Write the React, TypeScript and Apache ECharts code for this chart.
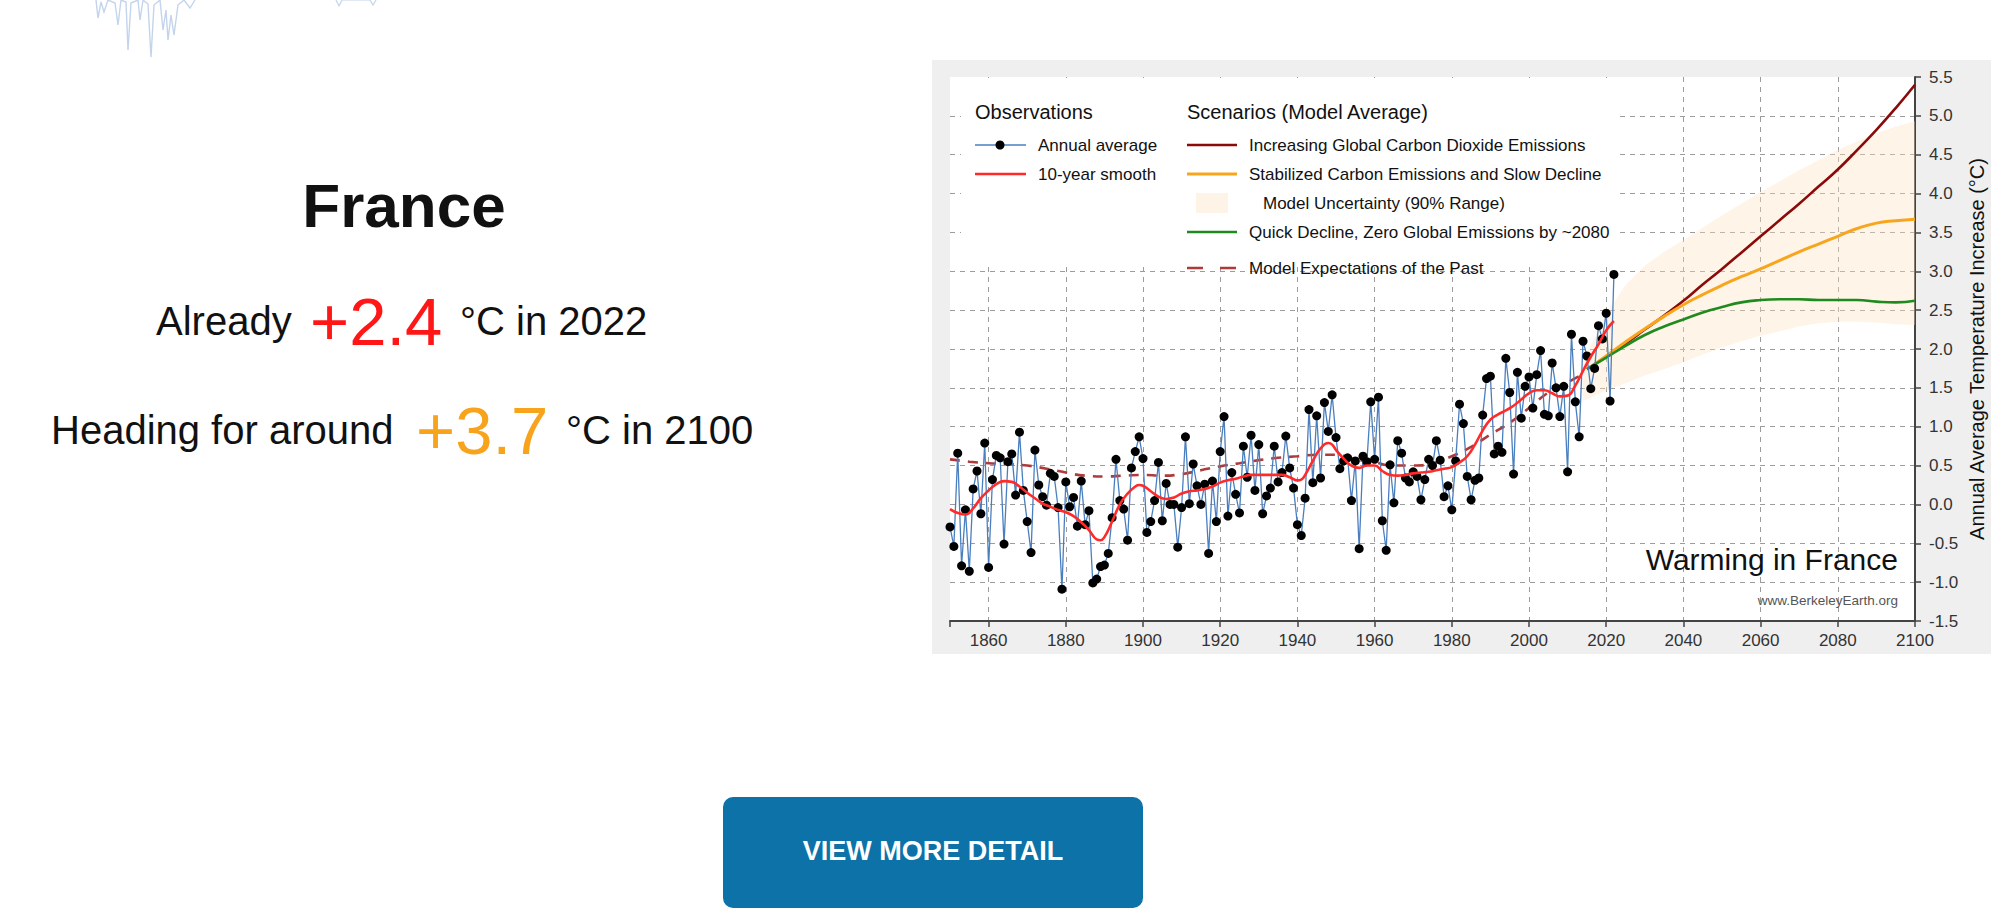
import React, { useEffect, useRef } from "react";
import * as echarts from "echarts";

const FONT = '"Liberation Sans", Arial, Helvetica, sans-serif';

// ---- Data ----
const annualStartYear = 1850;
const annualValues = [
  -0.29, -0.54, 0.66, -0.79, -0.07, -0.86, 0.2, 0.43, -0.12, 0.79, // 1850-1859
  -0.81, 0.32, 0.63, 0.6, -0.51, 0.55, 0.65, 0.12, 0.93, 0.18, // 1860-1869
  -0.22, -0.62, 0.7, 0.25, 0.1, -0.01, 0.4, 0.36, -0.04, -1.09, // 1870-1879
  0.29, -0.03, 0.09, -0.28, 0.3, -0.26, -0.08, -1.01, -0.96, -0.8, // 1880-1889
  -0.78, -0.63, -0.17, 0.58, 0.05, -0.06, -0.46, 0.47, 0.68, 0.87, // 1890-1899
  0.59, -0.36, -0.22, 0.05, 0.54, -0.21, 0.27, 0.0, 0.0, -0.55, // 1900-1909
  -0.04, 0.87, 0.01, 0.52, 0.24, 0.0, 0.26, -0.63, 0.3, -0.22, // 1910-1919
  0.68, 1.13, -0.15, 0.41, 0.13, -0.11, 0.75, 0.35, 0.89, 0.18, // 1920-1929
  0.77, -0.12, 0.11, 0.21, 0.75, 0.29, 0.41, 0.88, 0.47, 0.21, // 1930-1939
  -0.26, -0.4, 0.08, 1.22, 0.28, 1.14, 0.34, 1.31, 0.94, 1.41, // 1940-1949
  0.86, 0.46, 0.56, 0.6, 0.05, 0.56, -0.57, 0.62, 0.55, 1.32, // 1950-1959
  0.58, 1.38, -0.21, -0.59, 0.51, 0.02, 0.82, 0.66, 0.34, 0.29, // 1960-1969
  0.42, 0.36, 0.06, 0.32, 0.58, 0.5, 0.82, 0.57, 0.1, 0.24, // 1970-1979
  -0.07, 0.56, 1.29, 1.04, 0.36, 0.06, 0.31, 0.34, 1.15, 1.62, // 1980-1989
  1.65, 0.65, 0.75, 0.67, 1.88, 1.44, 0.39, 1.7, 1.11, 1.52, // 1990-1999
  1.64, 1.24, 1.67, 1.98, 1.16, 1.14, 1.82, 1.5, 1.13, 1.52, // 2000-2009
  0.42, 2.19, 1.32, 0.87, 2.1, 1.91, 1.49, 1.75, 2.3, 2.13, // 2010-2019
  2.46, 1.33, 2.96, // 2020-2022
];

const smoothYears = [
  1850, 1852, 1854, 1856, 1858, 1860, 1862, 1864, 1866, 1868, 1870, 1872, 1874, 1876, 1878,
  1880, 1882, 1884, 1886, 1888, 1889, 1890, 1892, 1894, 1896, 1898, 1899, 1900, 1902, 1904,
  1906, 1908, 1910, 1912, 1914, 1916, 1918, 1920, 1922, 1924, 1926, 1928, 1930, 1932, 1934,
  1936, 1938, 1940, 1941, 1942, 1944, 1946, 1948, 1949, 1950, 1952, 1954, 1956, 1958, 1960,
  1962, 1964, 1966, 1968, 1970, 1972, 1974, 1976, 1978, 1980, 1982, 1984, 1986, 1988, 1990,
  1992, 1994, 1996, 1998, 2000, 2002, 2004, 2006, 2008, 2010, 2012, 2014, 2016, 2018, 2020,
  2022,
];
const smoothValues = [
  -0.06, -0.11, -0.13, -0.05, 0.08, 0.18, 0.26, 0.3, 0.29, 0.23, 0.15, 0.08, 0.01, -0.03, -0.07,
  -0.1, -0.15, -0.23, -0.33, -0.45, -0.46, -0.42, -0.22, 0.0, 0.14, 0.23, 0.25, 0.24, 0.17, 0.1,
  0.07, 0.09, 0.14, 0.17, 0.18, 0.2, 0.23, 0.28, 0.31, 0.33, 0.36, 0.38, 0.38, 0.38, 0.38,
  0.38, 0.35, 0.31, 0.32, 0.38, 0.56, 0.72, 0.79, 0.77, 0.7, 0.59, 0.5, 0.47, 0.5, 0.5,
  0.43, 0.38, 0.37, 0.38, 0.4, 0.41, 0.42, 0.44, 0.46, 0.48, 0.54, 0.62, 0.77, 0.95, 1.09,
  1.16, 1.21, 1.27, 1.35, 1.43, 1.47, 1.47, 1.43, 1.39, 1.4, 1.53, 1.72, 1.9, 2.06, 2.24,
  2.36,
];

const pastYears = [
  1850, 1855, 1860, 1865, 1870, 1875, 1880, 1885, 1890, 1895, 1900, 1905, 1910, 1915, 1920,
  1925, 1930, 1935, 1940, 1945, 1950, 1955, 1960, 1965, 1970, 1975, 1980, 1985, 1990, 1995,
  2000, 2005, 2010, 2014,
];
const pastValues = [
  0.58, 0.55, 0.53, 0.52, 0.5, 0.46, 0.41, 0.37, 0.36, 0.37, 0.38, 0.37, 0.39, 0.44, 0.49,
  0.53, 0.57, 0.6, 0.62, 0.64, 0.64, 0.58, 0.54, 0.5, 0.5, 0.53, 0.62, 0.74, 0.9, 1.05,
  1.24, 1.44, 1.57, 1.68,
];

const scenarioYears = [
  2015, 2020, 2025, 2030, 2035, 2040, 2045, 2050, 2055, 2060, 2065, 2070, 2075, 2080, 2085,
  2090, 2095, 2100,
];
const increasingValues = [
  1.74, 1.9, 2.07, 2.25, 2.43, 2.62, 2.83, 3.03, 3.24, 3.45, 3.66, 3.87, 4.09, 4.31, 4.56,
  4.82, 5.1, 5.4,
];
const stabilizedValues = [
  1.74, 1.91, 2.09, 2.26, 2.42, 2.57, 2.7, 2.82, 2.93, 3.03, 3.14, 3.25, 3.35, 3.45, 3.55,
  3.62, 3.65, 3.67,
];
const quickDeclineValues = [
  1.74, 1.89, 2.04, 2.18, 2.29, 2.38, 2.47, 2.54, 2.6, 2.63, 2.64, 2.64, 2.63, 2.63, 2.63,
  2.61, 2.6, 2.62,
];

const bandYears = [
  2014, 2015, 2020, 2025, 2030, 2035, 2040, 2045, 2050, 2055, 2060, 2065, 2070, 2075, 2080,
  2085, 2090, 2095, 2100,
];
const bandLower = [
  1.33, 1.35, 1.47, 1.56, 1.66, 1.74, 1.83, 1.93, 2.02, 2.1, 2.17, 2.23, 2.29, 2.33, 2.35,
  2.35, 2.34, 2.32, 2.31,
];
const bandUpper = [
  1.8, 1.95, 2.45, 2.82, 3.07, 3.25, 3.4, 3.56, 3.72, 3.87, 4.02, 4.16, 4.3, 4.43, 4.56,
  4.67, 4.78, 4.86, 4.93,
];

const xTickYears = [1850, 1860, 1880, 1900, 1920, 1940, 1960, 1980, 2000, 2020, 2040, 2060, 2080, 2100];
const xLabelYears = [1860, 1880, 1900, 1920, 1940, 1960, 1980, 2000, 2020, 2040, 2060, 2080, 2100];

// ---- Colours ----
const C_ANNUAL = "#4a7fbf";
const C_SMOOTH = "#ff2a2a";
const C_PAST = "#ad3b3b";
const C_INC = "#8b0a0a";
const C_STAB = "#f8a51e";
const C_QUICK = "#1f8a1f";
const C_BAND = "#fdf3e6";

function txt(text: string, x: number, y: number, size: number, extra: any = {}, z = 5) {
  return {
    type: "text",
    x,
    y,
    z,
    style: {
      text,
      fill: extra.fill || "#111",
      fontSize: size,
      fontFamily: FONT,
      fontWeight: extra.fontWeight || "normal",
      textAlign: extra.align || "left",
      textVerticalAlign: "middle",
    },
  };
}

function legendLine(x1: number, x2: number, y: number, color: string, width: number, dash?: number[]) {
  return {
    type: "line",
    z: 5,
    shape: { x1, y1: y, x2, y2: y },
    style: { stroke: color, lineWidth: width, lineDash: dash || null },
  };
}

export default function App() {
  const ref = useRef<HTMLDivElement>(null);

  useEffect(() => {
    if (!ref.current) return;
    const chart = echarts.init(ref.current, undefined, { renderer: "svg" });

    const annualData = annualValues.map((v, i) => [annualStartYear + i, v]);
    const pair = (xs: number[], ys: number[]) => xs.map((x, i) => [x, ys[i]]);

    const decoA = [
      [96, 0], [98, 18], [101, 2], [104, 12], [108, 0], [115, 3], [118, 25], [121, 0], [126, 2],
      [128, 50], [131, 3], [138, 0], [140, 20], [143, 0], [148, 4], [151, 57], [154, 5], [160, 0],
      [163, 30], [166, 10], [168, 40], [171, 15], [174, 35], [178, 5], [184, 0], [190, 8], [195, 0],
    ];

    const graphic: any[] = [
      // page decoration (cut-off chart above)
      { type: "polyline", z: 1, shape: { points: decoA }, style: { stroke: "#c3d4ec", lineWidth: 1.4, fill: null } },
      { type: "polyline", z: 1, shape: { points: [[336, 0], [339, 6], [342, 0], [370, 0], [373, 5], [376, 0]] }, style: { stroke: "#c3d4ec", lineWidth: 1.2, fill: null } },

      // left-hand texts
      txt("France", 404, 205, 62, { fontWeight: "bold", align: "center" }),
      txt("Already", 156, 321, 40),
      txt("+2.4", 310, 321, 67, { fill: "#ff1616" }),
      txt("°C in 2022", 460, 321, 40),
      txt("Heading for around", 51, 430, 40),
      txt("+3.7", 416, 430, 67, { fill: "#f8a31c" }),
      txt("°C in 2100", 566, 430, 40),

      // button
      { type: "rect", z: 4, shape: { x: 723, y: 797, width: 420, height: 111, r: 10 }, style: { fill: "#0c72a8" } },
      txt("VIEW MORE DETAIL", 933, 851, 27, { fill: "#ffffff", fontWeight: "bold", align: "center" }),

      // chart frame background
      { type: "rect", z: -5, shape: { x: 932, y: 60, width: 1059, height: 594 }, style: { fill: "#efefef" } },

      // legend box
      { type: "rect", z: 1, shape: { x: 961, y: 78, width: 659, height: 184 }, style: { fill: "#ffffff" } },
      txt("Observations", 975, 112, 20),
      txt("Scenarios (Model Average)", 1187, 112, 20),
      legendLine(975, 1026, 145, C_ANNUAL, 1.5),
      { type: "circle", z: 6, shape: { cx: 1000, cy: 145, r: 4.5 }, style: { fill: "#000" } },
      txt("Annual average", 1038, 145, 17),
      legendLine(975, 1026, 174, C_SMOOTH, 2.6),
      txt("10-year smooth", 1038, 174, 17),
      legendLine(1187, 1237, 145, C_INC, 2.6),
      txt("Increasing Global Carbon Dioxide Emissions", 1249, 145, 17),
      legendLine(1187, 1237, 174, C_STAB, 3),
      txt("Stabilized Carbon Emissions and Slow Decline", 1249, 174, 17),
      { type: "rect", z: 5, shape: { x: 1196, y: 193, width: 32, height: 20 }, style: { fill: C_BAND } },
      txt("Model Uncertainty (90% Range)", 1263, 203, 17),
      legendLine(1187, 1237, 232, C_QUICK, 2.6),
      txt("Quick Decline, Zero Global Emissions by ~2080", 1249, 232, 17),
      legendLine(1187, 1237, 268, C_PAST, 2.6, [16, 17]),
      txt("Model Expectations of the Past", 1249, 268, 17),

      // in-plot annotations
      txt("Warming in France", 1898, 559, 30, { align: "right" }),
      txt("www.BerkeleyEarth.org", 1898, 600, 13.5, { align: "right", fill: "#555" }),
    ];

    const option: any = {
      animation: false,
      backgroundColor: "#ffffff",
      textStyle: { fontFamily: FONT },
      grid: {
        left: 950,
        top: 77,
        width: 965,
        height: 544,
        show: true,
        backgroundColor: "#ffffff",
        borderWidth: 0,
        containLabel: false,
      },
      xAxis: {
        type: "value",
        min: 1850,
        max: 2100,
        interval: 10,
        axisLine: { show: true, onZero: false, lineStyle: { color: "#444", width: 2 } },
        axisTick: { show: true, length: 6, customValues: xTickYears, lineStyle: { color: "#444", width: 1.5 } },
        axisLabel: {
          customValues: xLabelYears,
          formatter: (v: number) => (Math.round(v) % 20 === 0 ? String(Math.round(v)) : ""),
          color: "#333",
          fontSize: 17,
          fontFamily: FONT,
          margin: 11,
        },
        splitLine: {
          show: true,
          showMinLine: false,
          showMaxLine: false,
          lineStyle: { color: "#9c9c9c", type: [5, 5], width: 1 },
        },
      },
      yAxis: {
        type: "value",
        position: "right",
        min: -1.5,
        max: 5.5,
        interval: 0.5,
        name: "Annual Average Temperature Increase (°C)",
        nameLocation: "middle",
        nameRotate: 90,
        nameGap: 52,
        nameTextStyle: { fontSize: 20, color: "#111", fontFamily: FONT },
        axisLine: { show: true, onZero: false, lineStyle: { color: "#444", width: 2 } },
        axisTick: { show: true, length: 6, lineStyle: { color: "#444", width: 1.5 } },
        axisLabel: {
          formatter: (v: number) => v.toFixed(1),
          color: "#333",
          fontSize: 17,
          fontFamily: FONT,
          margin: 14,
        },
        splitLine: {
          show: true,
          showMinLine: false,
          showMaxLine: false,
          lineStyle: { color: "#9c9c9c", type: [5, 5], width: 1 },
        },
      },
      series: [
        {
          name: "Model Uncertainty (90% Range)",
          type: "custom",
          silent: true,
          z: 2,
          data: [[2050, 3]],
          renderItem: (_params: any, api: any) => {
            const top = bandYears.map((y, i) => api.coord([y, bandUpper[i]]));
            const bottom = bandYears.map((y, i) => api.coord([y, bandLower[i]])).reverse();
            return {
              type: "polygon",
              shape: { points: top.concat(bottom) },
              style: { fill: "#fbe1bd", opacity: 0.36, stroke: null },
            };
          },
        },
        {
          name: "Model Expectations of the Past",
          type: "line",
          data: pair(pastYears, pastValues),
          symbol: "none",
          smooth: true,
          lineStyle: { color: C_PAST, width: 2.6, type: [10, 8] },
          z: 3,
        },
        {
          name: "Increasing Global Carbon Dioxide Emissions",
          type: "line",
          data: pair(scenarioYears, increasingValues),
          symbol: "none",
          smooth: true,
          lineStyle: { color: C_INC, width: 2.6 },
          z: 3,
        },
        {
          name: "Stabilized Carbon Emissions and Slow Decline",
          type: "line",
          data: pair(scenarioYears, stabilizedValues),
          symbol: "none",
          smooth: true,
          lineStyle: { color: C_STAB, width: 3 },
          z: 3,
        },
        {
          name: "Quick Decline, Zero Global Emissions by ~2080",
          type: "line",
          data: pair(scenarioYears, quickDeclineValues),
          symbol: "none",
          smooth: true,
          lineStyle: { color: C_QUICK, width: 2.6 },
          z: 3,
        },
        {
          name: "Annual average",
          type: "line",
          data: annualData,
          symbol: "circle",
          symbolSize: 9,
          showAllSymbol: true,
          itemStyle: { color: "#000" },
          lineStyle: { color: C_ANNUAL, width: 1.3 },
          z: 4,
        },
        {
          name: "10-year smooth",
          type: "line",
          data: pair(smoothYears, smoothValues),
          symbol: "none",
          smooth: true,
          lineStyle: { color: C_SMOOTH, width: 2.6 },
          z: 5,
        },
      ],
      graphic,
    };

    chart.setOption(option);
    return () => chart.dispose();
  }, []);

  return (
    <div
      ref={ref}
      style={{ position: "absolute", left: 0, top: 0, width: 2000, height: 920, background: "#fff" }}
    />
  );
}
